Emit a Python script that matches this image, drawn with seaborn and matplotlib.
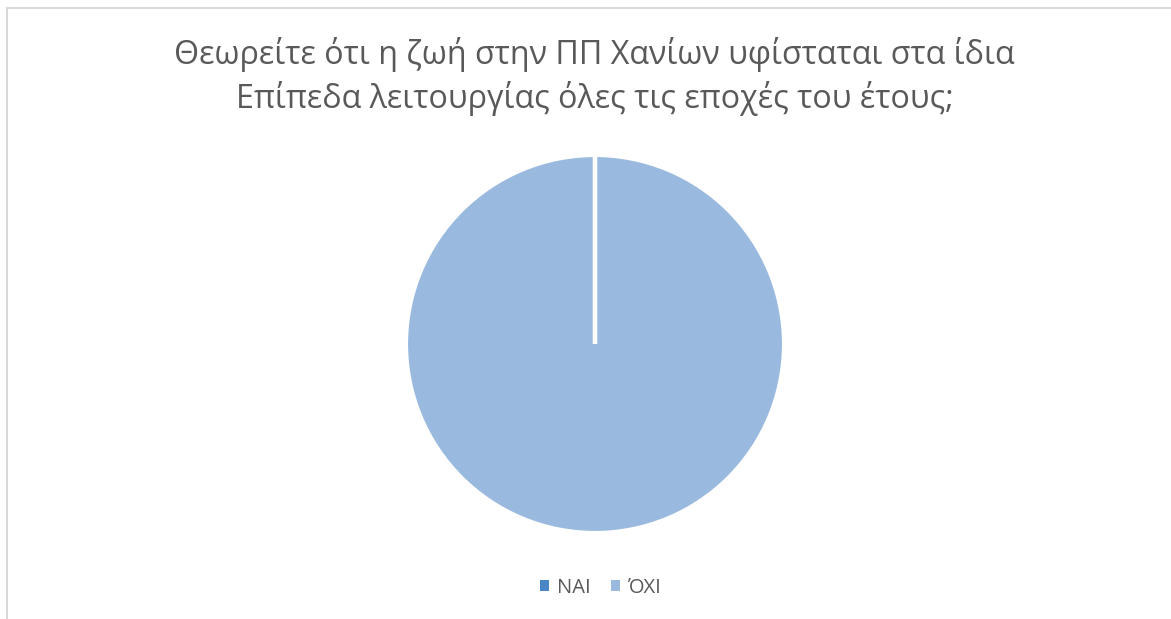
import matplotlib
matplotlib.use("Agg")
import numpy as np
import matplotlib.pyplot as plt
import seaborn as sns
from matplotlib.lines import Line2D
from matplotlib.patches import Patch

categories = ["ΝΑΙ", "ΌΧΙ"]
values = [0, 100]
title_lines = ["Θεωρείτε ότι η ζωή στην ΠΠ Χανίων υφίσταται στα ίδια",
               "Επίπεδα λειτουργίας όλες τις εποχές του έτους;"]
colors = ["#4A86C5", "#99B9DF"]

sns.set_theme(style="white")
plt.rcParams['font.family'] = ['Open Sans', 'DejaVu Sans']

W, H = 1171, 619
fig = plt.figure(figsize=(W / 100, H / 100), dpi=100)
fig.patch.set_facecolor("white")

cx, cy, r = 595, 344, 189
ax = fig.add_axes([(cx - r) / W, (H - cy - r) / H, 2 * r / W, 2 * r / H])
wedges, _ = ax.pie(values, colors=colors, startangle=90, counterclock=False,
                   wedgeprops=dict(edgecolor="white", linewidth=3))
# slice separator lines (radial edges of each wedge)
for w in wedges:
    c = w.center
    for th in (w.theta1, w.theta2):
        t = np.deg2rad(th)
        ax.plot([c[0], c[0] + w.r * np.cos(t)], [c[1], c[1] + w.r * np.sin(t)],
                color="white", lw=3, solid_capstyle="butt", zorder=5)
ax.set_xlim(-1, 1)
ax.set_ylim(-1, 1)
ax.axis("off")

# border lines
fig.add_artist(Line2D([7 / W, 7 / W], [0, 1 - 8 / H], color="#D9D9D9", lw=1.5))
fig.add_artist(Line2D([7 / W, 1], [1 - 8 / H, 1 - 8 / H], color="#D9D9D9", lw=1.5))

tc = "#595959"
fig.text(594.5 / W, 1 - 55 / H, title_lines[0], ha="center", va="center",
         fontsize=23.2, color=tc)
fig.text(594.5 / W, 1 - 98 / H, title_lines[1], ha="center", va="center",
         fontsize=23.2, color=tc)

handles = [Patch(facecolor=c, edgecolor="none") for c in colors]
fig.legend(handles, categories, loc="center", bbox_to_anchor=(601 / W, 1 - 588 / H),
           ncol=2, frameon=False, fontsize=14.5, handlelength=0.45, handleheight=0.45,
           handletextpad=0.4, columnspacing=1.0, labelcolor=tc)

fig.savefig("out.png", dpi=100, facecolor="white")
